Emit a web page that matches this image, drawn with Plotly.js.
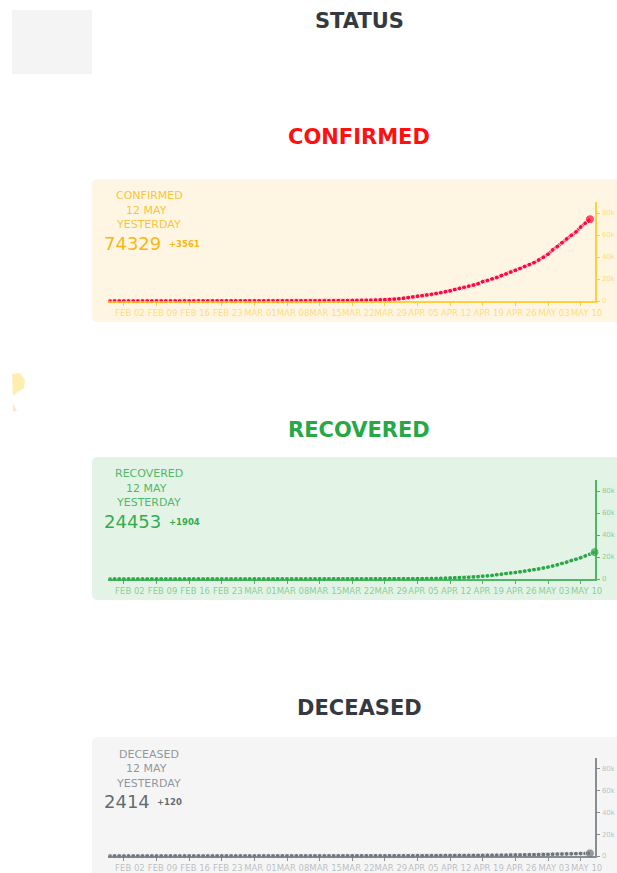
<!DOCTYPE html>
<html>
<head>
<meta charset="utf-8">
<script src="https://cdn.plot.ly/plotly-3.0.1.min.js"></script>
<style>
  html, body { margin: 0; padding: 0; background: #ffffff; }
  #chart { width: 617px; height: 873px; }
</style>
</head>
<body>
<div id="chart"></div>
<script>
// ---------------- DATA ----------------
const startDate = '2020-01-30';

const confirmedValues = [
  1, 1, 1, 2, 3,
  3, 3, 3, 3, 3, 3, 3, 3, 3, 3, 3, 3, 3, 3, 3, 3, 3, 3, 3, 3, 3, 3, 3, 3, 3, 3,
  3,
  5, 6, 28, 30, 31, 34, 39, 48, 63, 71, 81, 91, 102, 112, 126, 146, 171, 198, 256, 334,
  403, 497, 571, 657, 730, 883, 1019, 1139, 1326, 1635,
  2059, 2545, 3105, 3684, 4293, 4777, 5350, 5915, 6728, 7599, 8453, 9211, 10454, 11485, 12371,
  13432, 14425, 15722, 17615, 18539, 20080, 21370, 23077, 24530, 26283, 27890, 29451, 31324, 33062, 34863,
  37257, 39699, 42505, 46437, 49400, 52987, 56351, 59695, 62808, 67161, 70768, 74329
];

const recoveredValues = [
  0, 0, 0, 0, 0, 0, 0, 0, 0, 0, 0, 0, 0, 0, 0,
  1, 2, 2, 2, 2, 2,
  3, 3, 3, 3, 3, 3, 3, 3, 3, 3, 3,
  3, 3, 3, 3, 3, 3, 3, 3, 4, 4, 4, 4, 10, 10, 13, 13, 14, 14, 20, 23, 23,
  24, 35, 40, 43, 67, 79, 89, 102, 137, 150,
  169, 191, 230, 286, 328, 376, 473, 508, 636, 774, 969, 1080, 1181, 1359, 1432,
  1768, 2041, 2463, 2854, 3273, 3975, 4370, 5012, 5496, 5939, 6523, 7137, 7796, 8437, 9068,
  10007, 10819, 11775, 12847, 14142, 15331, 16776, 17887, 19301, 20969, 22549, 24453
];

const deceasedValues = [
  0, 0, 0, 0, 0, 0, 0, 0, 0, 0, 0, 0, 0, 0, 0, 0, 0, 0, 0, 0, 0, 0, 0, 0, 0, 0, 0, 0, 0, 0, 0,
  0, 0, 0, 0, 0, 0, 0, 0, 0, 0, 0,
  1, 2, 2, 2, 2, 3, 3, 4, 5, 5, 7, 10, 12, 13, 18, 20, 25, 27, 40, 51,
  58, 72, 86, 99, 136, 150, 178, 226, 246, 288, 331, 358, 393, 405, 420,
  448, 486, 521, 559, 592, 645, 681, 721, 780, 825, 881, 939, 1008, 1079, 1152,
  1223, 1323, 1391, 1568, 1694, 1783, 1886, 1981, 2109, 2206, 2294, 2414
];

const tickDates = ['2020-02-02','2020-02-09','2020-02-16','2020-02-23','2020-03-01','2020-03-08',
  '2020-03-15','2020-03-22','2020-03-29','2020-04-05','2020-04-12','2020-04-19','2020-04-26',
  '2020-05-03','2020-05-10'];
const tickLabels = ['FEB 02','FEB 09','FEB 16','FEB 23','MAR 01','MAR 08','MAR 15','MAR 22',
  'MAR 29','APR 05','APR 12','APR 19','APR 26','MAY 03','MAY 10'];

const yTickVals = [0, 20000, 40000, 60000, 80000];
const yTickText = ['0', '20k', '40k', '60k', '80k'];

const panelNames = ['CONFIRMED', 'RECOVERED', 'DECEASED'];
const panelDate = '12 MAY';
const panelSub = 'YESTERDAY';
const panelTotals = ['74329', '24453', '2414'];
const panelDeltas = ['+3561', '+1904', '+120'];
const pageTitle = 'STATUS';

// ---------------- BUILD ----------------
function dateSeries(n) {
  const out = [];
  const d0 = new Date(startDate + 'T00:00:00Z');
  for (let i = 0; i < n; i++) {
    const d = new Date(d0.getTime() + i * 86400000);
    out.push(d.toISOString().slice(0, 10));
  }
  return out;
}

const W = 617, H = 873;
const px = (x) => x / W;
const py = (y) => 1 - y / H;
const FONT = '"Comic Sans MS", "DejaVu Sans", sans-serif';

const series = [confirmedValues, recoveredValues, deceasedValues];
const styles = [
  { line: '#ff073a', axis: 'rgba(255,193,7,0.75)', tickText: 'rgba(255,193,7,0.5)',
    label: 'rgba(250,185,20,0.85)', num: 'rgba(248,178,10,0.95)', bg: '#fef6e2',
    title: '#ff1010', top: 179, bottom: 322, yZero: 301, yTop: 202, titleY: 137 },
  { line: '#28a745', axis: 'rgba(40,167,69,0.8)', tickText: 'rgba(40,167,69,0.5)',
    label: 'rgba(40,167,69,0.8)', num: 'rgba(40,167,69,0.95)', bg: '#e3f3e6',
    title: '#28a745', top: 457, bottom: 600, yZero: 579, yTop: 480, titleY: 430 },
  { line: '#6c757d', axis: 'rgba(108,117,125,0.8)', tickText: 'rgba(108,117,125,0.45)',
    label: 'rgba(108,117,125,0.75)', num: 'rgba(90,98,106,0.95)', bg: '#f5f5f5',
    title: '#343a40', top: 737, bottom: 890, yZero: 856, yTop: 758, titleY: 708 }
];

const traces = [];
const layout = {
  width: W, height: H,
  margin: { l: 0, r: 0, t: 0, b: 0 },
  paper_bgcolor: '#ffffff',
  plot_bgcolor: 'rgba(0,0,0,0)',
  showlegend: false,
  shapes: [],
  annotations: []
};

// top-left gray box
layout.shapes.push({ type: 'rect', xref: 'paper', yref: 'paper', layer: 'below',
  x0: px(12), x1: px(92), y0: py(74), y1: py(10), line: { width: 0 }, fillcolor: '#f4f4f4' });
// small yellow fragment at left edge
layout.shapes.push({ type: 'path', xref: 'paper', yref: 'paper', layer: 'below',
  path: `M ${px(12)} ${py(374)} L ${px(20)} ${py(373)} L ${px(25)} ${py(380)} L ${px(24)} ${py(388)} L ${px(18)} ${py(392)} L ${px(13)} ${py(396)} Z`,
  line: { width: 0 }, fillcolor: '#ffeeb0' });
layout.shapes.push({ type: 'path', xref: 'paper', yref: 'paper', layer: 'below',
  path: `M ${px(13)} ${py(404)} L ${px(17)} ${py(411)} L ${px(13)} ${py(412)} Z`,
  line: { width: 0 }, fillcolor: '#ffe8c0' });

layout.annotations.push({ xref: 'paper', yref: 'paper', x: px(360), y: py(21),
  xanchor: 'center', yanchor: 'middle', showarrow: false, text: '<b>' + pageTitle + '</b>',
  font: { family: FONT, size: 21, color: '#343a40' } });

series.forEach((vals, i) => {
  const s = styles[i];
  const k = i === 0 ? '' : String(i + 1);
  const xa = 'xaxis' + k, ya = 'yaxis' + k;
  const xs = dateSeries(vals.length);

  // panel background with rounded left corners
  const r = 6;
  const x0 = 92, x1 = 630, y0 = s.top, y1 = s.bottom;
  layout.shapes.push({ type: 'path', xref: 'paper', yref: 'paper', layer: 'below',
    path: `M ${px(x0 + r)} ${py(y0)} L ${px(x1)} ${py(y0)} L ${px(x1)} ${py(y1)} L ${px(x0 + r)} ${py(y1)} ` +
          `Q ${px(x0)} ${py(y1)} ${px(x0)} ${py(y1 - r)} L ${px(x0)} ${py(y0 + r)} Q ${px(x0)} ${py(y0)} ${px(x0 + r)} ${py(y0)} Z`,
    line: { width: 0 }, fillcolor: s.bg });

  // section title
  layout.annotations.push({ xref: 'paper', yref: 'paper', x: px(359), y: py(s.titleY),
    xanchor: 'center', yanchor: 'middle', showarrow: false, text: '<b>' + panelNames[i] + '</b>',
    font: { family: FONT, size: 21, color: s.title } });

  // panel labels
  const t = s.top;
  layout.annotations.push({ xref: 'paper', yref: 'paper', x: px(149), y: py(t + 17),
    xanchor: 'center', yanchor: 'middle', showarrow: false, text: panelNames[i],
    font: { family: FONT, size: 11, color: s.label } });
  layout.annotations.push({ xref: 'paper', yref: 'paper', x: px(146), y: py(t + 31),
    xanchor: 'center', yanchor: 'middle', showarrow: false, text: panelDate,
    font: { family: FONT, size: 11, color: s.label } });
  layout.annotations.push({ xref: 'paper', yref: 'paper', x: px(148), y: py(t + 46),
    xanchor: 'center', yanchor: 'middle', showarrow: false, text: panelSub,
    font: { family: FONT, size: 11, color: s.label } });
  const totalW = panelTotals[i].length * 11.9;
  layout.annotations.push({ xref: 'paper', yref: 'paper', x: px(102), y: py(t + 64),
    xanchor: 'left', yanchor: 'middle', showarrow: false, text: panelTotals[i],
    font: { family: FONT, size: 18, color: s.num } });
  layout.annotations.push({ xref: 'paper', yref: 'paper', x: px(102 + totalW + 5), y: py(t + 65),
    xanchor: 'left', yanchor: 'middle', showarrow: false, text: '<b>' + panelDeltas[i] + '</b>',
    font: { family: FONT, size: 8.5, color: s.num } });

  // axes
  layout[xa] = {
    domain: [px(108), px(595)],
    anchor: 'y' + k,
    type: 'date',
    range: ['2020-01-29 14:00', '2020-05-13 02:00'],
    showgrid: false, zeroline: false,
    showline: true, linecolor: s.axis, linewidth: 1.5,
    ticks: 'outside', ticklen: 3, tickcolor: s.axis, tickwidth: 1,
    tickmode: 'array', tickvals: tickDates, ticktext: tickLabels,
    tickangle: 0, ticklabelshift: 6, ticklabelstandoff: 0,
    tickfont: { family: FONT, size: 8.5, color: s.tickText },
    fixedrange: true
  };
  layout[ya] = {
    domain: [py(s.yZero), py(s.yTop)],
    anchor: 'x' + k,
    side: 'right',
    range: [0, 90000],
    showgrid: false, zeroline: false,
    showline: true, linecolor: s.axis, linewidth: 1.5,
    ticks: 'outside', ticklen: 3, tickcolor: s.axis,
    ticklabelstandoff: 1,
    tickmode: 'array', tickvals: yTickVals, ticktext: yTickText,
    tickfont: { family: FONT, size: 7, color: s.tickText },
    fixedrange: true
  };

  const sizes = vals.map((v, j) => (j === vals.length - 1 ? 9 : 5));
  traces.push({
    type: 'scatter', mode: 'lines+markers',
    x: xs, y: vals,
    xaxis: 'x' + k, yaxis: 'y' + k,
    line: { color: s.line, width: 3 },
    marker: { color: s.line, size: sizes },
    cliponaxis: false,
    hoverinfo: 'skip'
  });
});

Plotly.newPlot('chart', traces, layout, { displayModeBar: false, staticPlot: true });
</script>
</body>
</html>
